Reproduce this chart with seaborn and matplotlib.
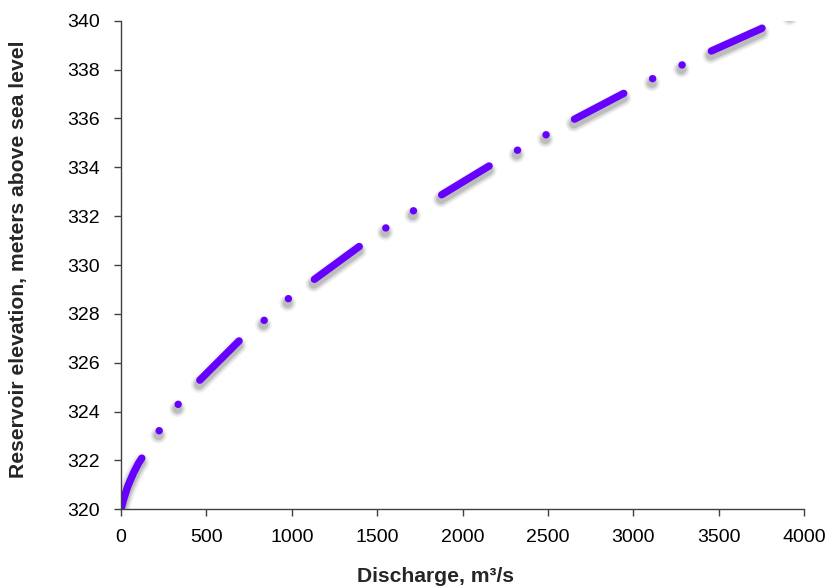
import matplotlib
matplotlib.use("Agg")
import matplotlib.pyplot as plt
import matplotlib.patheffects as pe
import seaborn as sns
import pandas as pd

# Rating curve: discharge (m3/s) vs reservoir elevation (m a.s.l.)
discharge = [0, 14, 39, 72, 102, 125, 224, 335, 462, 691, 836, 978, 1132, 1392, 1547,
             1708, 1872, 2155, 2317, 2484, 2648, 2937, 3105, 3277, 3448, 3745, 3940]
elevation = [320.0, 320.38, 320.93, 321.47, 321.88, 322.13, 323.22, 324.30, 325.29,
             326.89, 327.72, 328.61, 329.41, 330.74, 331.50, 332.20, 332.85, 334.05,
             334.68, 335.31, 335.94, 337.00, 337.60, 338.16, 338.73, 339.66, 340.40]

x_ticks = [0, 500, 1000, 1500, 2000, 2500, 3000, 3500, 4000]
y_ticks = [320, 322, 324, 326, 328, 330, 332, 334, 336, 338, 340]

sns.set_theme(style="ticks")
plt.rcParams["font.family"] = ["Liberation Sans", "DejaVu Sans"]
plt.rcParams["lines.scale_dashes"] = False

df = pd.DataFrame({"Discharge": discharge, "Elevation": elevation})

fig = plt.figure(figsize=(8.31, 5.86), dpi=100)
ax = fig.add_axes([121 / 831, 1 - 509.3 / 586, (804 - 121) / 831, (509.3 - 20.7) / 586])

shadow = [
    pe.SimpleLineShadow(offset=(-0.5, -3.2), shadow_color="#000000", alpha=0.06, linewidth=12),
    pe.SimpleLineShadow(offset=(-0.5, -3.2), shadow_color="#000000", alpha=0.09, linewidth=9.5),
    pe.SimpleLineShadow(offset=(-0.5, -3.2), shadow_color="#000000", alpha=0.13, linewidth=7),
    pe.Normal(),
]

sns.lineplot(data=df, x="Discharge", y="Elevation", ax=ax, color="#6600ff",
             linewidth=5.3, linestyle=(0, (40.0, 23.3, 0.1, 23.3, 0.1, 23.3)),
             dash_capstyle="round", solid_capstyle="round",
             path_effects=shadow, estimator=None, sort=False)

ax.set_xlim(0, 4000)
ax.set_ylim(320, 340)
ax.set_xticks(x_ticks)
ax.set_yticks(y_ticks)
ax.tick_params(axis="both", direction="out", length=5, width=1, color="#404040",
               labelsize=14, labelcolor="black")
ax.tick_params(axis="y", pad=10)
ax.tick_params(axis="x", pad=9.5)
for side in ["left", "bottom"]:
    ax.spines[side].set_color("#404040")
    ax.spines[side].set_linewidth(1)
for side in ["top", "right"]:
    ax.spines[side].set_visible(False)

ax.set_xlabel("Discharge, m\u00b3/s", fontsize=15.2, fontweight="bold", labelpad=15)
ax.set_ylabel("Reservoir elevation, meters above sea level", fontsize=15.2,
              fontweight="bold", labelpad=27)
ax.xaxis.set_label_coords(0.46, -0.1, transform=ax.transAxes)
ax.xaxis.label.set_verticalalignment("center")
ax.xaxis.set_label_coords(0.46, (509.3 - 576) / (509.3 - 20.7))
ax.yaxis.label.set_verticalalignment("center")
ax.yaxis.set_label_coords((19 - 121) / (804 - 121), 0.512)

fig.savefig("out.png", dpi=100)
